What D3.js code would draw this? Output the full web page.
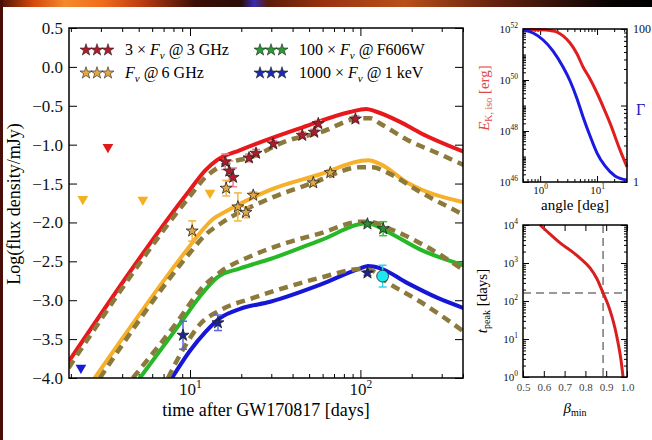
<!DOCTYPE html>
<html>
<head>
<meta charset="utf-8">
<script src="https://cdn.jsdelivr.net/npm/d3@7"></script>
<style>
  body { margin: 0; background: #fff; }
  svg { display: block; font-family: "Liberation Serif", "Times New Roman", serif; }
</style>
</head>
<body>
<div id="chart"></div>
<script>
// ---------- light curves: [days, log flux] ----------
const redSolid = [[1.94,-3.79],[10,-1.58],[12.3,-1.33],[14.4,-1.20],[19.7,-1.07],[44,-0.79],[87,-0.58],[108,-0.54],[122,-0.57],[172,-0.71],[225,-0.85],[403,-1.09]];
const redDashed = [[1.94,-3.87],[10,-1.66],[12.3,-1.42],[15,-1.28],[23.5,-1.15],[37.2,-0.95],[58.2,-0.84],[100,-0.66],[114,-0.66],[131,-0.73],[189,-0.94],[284,-1.11],[403,-1.26]];
const orangeSolid = [[2.76,-4.0],[9.6,-2.35],[11.4,-2.14],[13.6,-1.96],[16.5,-1.85],[29.6,-1.58],[58.2,-1.38],[100,-1.21],[111,-1.20],[131,-1.25],[189,-1.49],[403,-1.74]];
const orangeDashed = [[2.96,-4.0],[10,-2.39],[12.3,-2.16],[15,-2.02],[29.6,-1.69],[52.9,-1.49],[100,-1.29],[118,-1.29],[144,-1.36],[225,-1.61],[403,-1.90]];
const greenSolid = [[5.08,-4.0],[9.1,-3.25],[11.45,-2.95],[14.4,-2.71],[19.7,-2.59],[29.6,-2.47],[58.2,-2.23],[110,-2.01],[144,-2.12],[225,-2.35],[403,-2.55]];
const greenDashed = [[4.62,-4.0],[8.73,-3.23],[11.45,-2.87],[15,-2.64],[23.5,-2.42],[37.2,-2.26],[58.2,-2.14],[100,-1.99],[111,-1.99],[156,-2.10],[248,-2.32],[403,-2.61]];
const blueSolid = [[7.84,-4.0],[10,-3.65],[12.3,-3.41],[15,-3.23],[19.7,-3.11],[29.6,-3.02],[58.2,-2.80],[100,-2.59],[111,-2.56],[131,-2.59],[189,-2.78],[284,-2.97],[403,-3.10]];
const blueDashed = [[7.43,-4.0],[9.35,-3.59],[11.45,-3.31],[15,-3.13],[23.5,-2.97],[37.2,-2.83],[58.2,-2.71],[100,-2.60],[114,-2.61],[144,-2.77],[225,-3.02],[403,-3.40]];

// ---------- detections: [days, log flux, error] ----------
const redStars = [[16.1,-1.22,0.10],[17.0,-1.34,0.13],[17.9,-1.42,0.12],[22.2,-1.17,0.05],[24.4,-1.11,0.05],[30.8,-0.99,0.04],[45.6,-0.88,0.04],[53.6,-0.84,0.04],[56.6,-0.73,0.04],[93.5,-0.67,0.04]];
const orangeStars = [[10.3,-2.11,0.13],[16.3,-1.56,0.10],[19.1,-1.80,0.18],[21.3,-1.87,0.07],[23.5,-1.65,0.04],[52.9,-1.49,0.04],[66.6,-1.36,0.04]];
const greenStars = [[110,-2.02,0.03],[136,-2.08,0.09]];
const blueStars = [[9.1,-3.45,0.18],[14.6,-3.29,0.10],[110,-2.65,0.03]];
const cyanPoints = [[135,-2.69,0.14]];

// ---------- upper limits: [days, log flux] ----------
const redLimits = [[3.3,-1.03]];
const orangeLimits = [[2.35,-1.70],[5.29,-1.71],[13.1,-1.62]];
const blueLimits = [[2.29,-3.87]];

// ---------- legend ----------
const legendFactors = ["3 × ", "", "100 × ", "1000 × "];
const legendBands = ["3 GHz", "6 GHz", "F606W", "1 keV"];

// ---------- side panels ----------
const angleLogE = [[0.503,51.98],[1.0,51.97],[1.5,51.94],[1.99,51.88],[2.53,51.73],[3.36,51.45],[4.46,51.02],[5.68,50.51],[7.54,50.04],[10,49.49],[13.8,48.78],[16.9,48.31],[25.4,47.25],[33.6,46.59]];
const angleGamma = [[0.503,97],[0.754,88.6],[1.13,71.8],[1.69,51.5],[2.53,31.8],[3.36,20.9],[4.46,12.2],[5.68,7.08],[7.54,3.99],[10,2.39],[13.8,1.62],[20.7,1.2],[33.6,1.06]];
const betaLogT = [[0.582,4.0],[0.630,3.76],[0.678,3.53],[0.726,3.34],[0.774,3.13],[0.822,2.87],[0.856,2.58],[0.885,2.21],[0.909,1.90],[0.928,1.58],[0.942,1.29],[0.957,0.90],[0.971,0.45],[0.981,0.0]];
const betaMark = 0.885;
const tPeakMark = 162;
const betaTicks = [0.5, 0.6, 0.7, 0.8, 0.9, 1.0];

const W = 652, H = 440;
const svg = d3.select("#chart").append("svg").attr("width", W).attr("height", H);

// screenshot edges
const defs = svg.append("defs");
const band = defs.append("linearGradient").attr("id", "band");
[[0,"#4a1206"],[0.05,"#d2480e"],[0.1,"#f58a2a"],[0.16,"#f06a1c"],[0.22,"#b83a10"],[0.3,"#3a0e06"],[0.37,"#2a0c08"],[0.39,"#3a2ab0"],[0.41,"#5a1a0a"],[0.5,"#9a3410"],[0.62,"#b8501a"],[0.75,"#6a2410"],[0.86,"#301008"],[0.93,"#0a0404"],[1,"#000"]]
  .forEach(([o, c]) => band.append("stop").attr("offset", o).attr("stop-color", c));
svg.append("rect").attr("width", W).attr("height", 7).attr("fill", "url(#band)");
svg.append("rect").attr("width", 3).attr("height", H).attr("fill", "#4a0e08");

let tidy = function(g) {
    g.select(".domain").remove();
    g.attr("font-family", null).attr("font-size", null);
    g.selectAll(".tick line").attr("stroke", "#000");
    g.selectAll(".tick text").attr("fill", "#111");
};

let pow10 = function(text, exp, size) {
    text.text(null);
    text.append("tspan").text("10");
    text.append("tspan").attr("font-size", size * 0.68).attr("dy", -size * 0.42).text(exp);
};

// ================= main panel =================
const x = d3.scaleLog().domain([1.95, 400]).range([69, 463]);
const y = d3.scaleLinear().domain([-4, 0.5]).range([378, 28]);
const xMajor = [10, 100];
const xMinor = x.ticks().filter(d => !xMajor.includes(d));
const yTicks = d3.range(-4, 0.51, 0.5);

const main = svg.append("g");
main.append("defs").append("clipPath").attr("id", "clipMain")
    .append("rect").attr("x", 69).attr("y", 28).attr("width", 394).attr("height", 350);

main.append("g").attr("transform", "translate(0,378)")
    .call(d3.axisBottom(x).tickValues(xMajor).tickSizeInner(-8).tickSizeOuter(0).tickPadding(5).tickFormat(""))
    .call(tidy)
    .selectAll(".tick text").attr("font-size", 17).each(function(d) { d3.select(this).call(pow10, Math.round(Math.log10(d)), 17); });
main.append("g").attr("transform", "translate(0,378)")
    .call(d3.axisBottom(x).tickValues(xMinor).tickSizeInner(-4).tickSizeOuter(0).tickFormat(""))
    .call(tidy);
main.append("g").attr("transform", "translate(0,28)")
    .call(d3.axisTop(x).tickValues(xMajor).tickSizeInner(-8).tickSizeOuter(0).tickFormat(""))
    .call(tidy);
main.append("g").attr("transform", "translate(0,28)")
    .call(d3.axisTop(x).tickValues(xMinor).tickSizeInner(-4).tickSizeOuter(0).tickFormat(""))
    .call(tidy);
main.append("g").attr("transform", "translate(69,0)")
    .call(d3.axisLeft(y).tickValues(yTicks).tickSizeInner(-8).tickSizeOuter(0).tickPadding(6).tickFormat(d3.format(".1f")))
    .call(tidy)
    .selectAll(".tick text").attr("font-size", 17);
main.append("g").attr("transform", "translate(463,0)")
    .call(d3.axisRight(y).tickValues(yTicks).tickSizeInner(-8).tickSizeOuter(0).tickFormat(""))
    .call(tidy);

main.append("text").attr("x", 266).attr("y", 416).attr("text-anchor", "middle")
    .attr("font-size", 18).text("time after GW170817 [days]");
main.append("text").attr("transform", "translate(20,204) rotate(-90)").attr("text-anchor", "middle")
    .attr("font-size", 18).text("Log(flux density/mJy)");

const line = d3.line().x(d => x(d[0])).y(d => y(d[1])).curve(d3.curveMonotoneX);
const plot = main.append("g").attr("clip-path", "url(#clipMain)");

const series = [
    {solid: redSolid, dashed: redDashed, color: "#e8191c"},
    {solid: orangeSolid, dashed: orangeDashed, color: "#f7b02a"},
    {solid: greenSolid, dashed: greenDashed, color: "#27b827"},
    {solid: blueSolid, dashed: blueDashed, color: "#1616d6"}
];
series.forEach(s => {
    plot.append("path").attr("d", line(s.solid)).attr("fill", "none")
        .attr("stroke", s.color).attr("stroke-width", 4);
});
series.forEach(s => {
    plot.append("path").attr("d", line(s.dashed)).attr("fill", "none")
        .attr("stroke", "#8c7a3c").attr("stroke-width", 4.5).attr("stroke-dasharray", "9,6");
});

// upper limits
const tri = d3.symbol(d3.symbolTriangle, 50)();
[[redLimits, "#e01a1a"], [orangeLimits, "#f5b020"], [blueLimits, "#1a1ad6"]].forEach(([data, color]) => {
    plot.selectAll(null).data(data).join("path")
        .attr("d", tri)
        .attr("transform", d => `translate(${x(d[0])},${y(d[1])}) rotate(180)`)
        .attr("fill", color);
});

// detections with error bars
let drawPoints = function(data, errColor, fill, shape) {
    const g = plot.append("g");
    const bars = g.selectAll("g").data(data).join("g").attr("stroke", errColor).attr("stroke-width", 1.5);
    bars.append("line").attr("x1", d => x(d[0])).attr("x2", d => x(d[0]))
        .attr("y1", d => y(d[1] - d[2])).attr("y2", d => y(d[1] + d[2]));
    bars.append("line").attr("x1", d => x(d[0]) - 4).attr("x2", d => x(d[0]) + 4)
        .attr("y1", d => y(d[1] - d[2])).attr("y2", d => y(d[1] - d[2]));
    bars.append("line").attr("x1", d => x(d[0]) - 4).attr("x2", d => x(d[0]) + 4)
        .attr("y1", d => y(d[1] + d[2])).attr("y2", d => y(d[1] + d[2]));
    g.selectAll("path").data(data).join("path")
        .attr("d", shape)
        .attr("transform", d => `translate(${x(d[0])},${y(d[1])})`)
        .attr("fill", fill).attr("stroke", "#222").attr("stroke-width", 0.8);
};
const star = d3.symbol(d3.symbolStar, 45)();
drawPoints(redStars, "#f07f86", "#b01b2b", star);
drawPoints(orangeStars, "#f2b448", "#e2a845", star);
drawPoints(greenStars, "#3cc03c", "#2a8f32", star);
drawPoints(blueStars, "#5a64e0", "#1c2490", star);
drawPoints(cyanPoints, "#33d6e6", "#1ee8f0", d3.symbol(d3.symbolCircle, 110)());

// legend
const legendColors = ["#b01b2b", "#e2a845", "#2a9a36", "#1a2ab4"];
const legend = main.append("g");
legendBands.forEach((b, i) => {
    const lx = i < 2 ? 86 : 260;
    const ly = i % 2 === 0 ? 50 : 73;
    [0, 11, 22].forEach(dx => {
        legend.append("path").attr("d", star)
            .attr("transform", `translate(${lx + dx},${ly})`)
            .attr("fill", legendColors[i]).attr("stroke", "#222").attr("stroke-width", 0.6);
    });
    const t = legend.append("text").attr("x", lx + 39).attr("y", ly + 5).attr("font-size", 16);
    t.append("tspan").text(legendFactors[i]);
    t.append("tspan").attr("font-style", "italic").text("F");
    t.append("tspan").attr("font-style", "italic").attr("font-size", 11).attr("dy", 4).text("ν");
    t.append("tspan").attr("dy", -4).text(" @\u2009" + b);
});

main.append("rect").attr("x", 69).attr("y", 28).attr("width", 394).attr("height", 350)
    .attr("fill", "none").attr("stroke", "#000").attr("stroke-width", 1.5);

// ================= upper right: energy / Lorentz factor vs angle =================
const xa = d3.scaleLog().domain([0.5, 33.6]).range([523, 627]);
const ye = d3.scaleLog().domain([1e46, 1e52]).range([182, 29]);
const yg = d3.scaleLog().domain([1, 100]).range([182, 29]);
const up = svg.append("g");
const aMajor = [1, 10];
const aMinor = xa.ticks().filter(d => !aMajor.includes(d));
const eMajor = [1e46, 1e48, 1e50, 1e52];
const eMinor = ye.ticks().filter(d => !eMajor.includes(d));
const gMajor = [1, 10, 100];
const gMinor = yg.ticks().filter(d => !gMajor.includes(d));

up.append("g").attr("transform", "translate(0,182)")
    .call(d3.axisBottom(xa).tickValues(aMajor).tickSizeInner(-6).tickSizeOuter(0).tickPadding(4).tickFormat(""))
    .call(tidy)
    .selectAll(".tick text").attr("font-size", 11).each(function(d) { d3.select(this).call(pow10, Math.round(Math.log10(d)), 11); });
up.append("g").attr("transform", "translate(0,182)")
    .call(d3.axisBottom(xa).tickValues(aMinor).tickSizeInner(-3).tickSizeOuter(0).tickFormat("")).call(tidy);
up.append("g").attr("transform", "translate(0,29)")
    .call(d3.axisTop(xa).tickValues(aMajor).tickSizeInner(-6).tickSizeOuter(0).tickFormat("")).call(tidy);
up.append("g").attr("transform", "translate(0,29)")
    .call(d3.axisTop(xa).tickValues(aMinor).tickSizeInner(-3).tickSizeOuter(0).tickFormat("")).call(tidy);
up.append("g").attr("transform", "translate(523,0)")
    .call(d3.axisLeft(ye).tickValues(eMajor).tickSizeInner(-6).tickSizeOuter(0).tickPadding(5).tickFormat(""))
    .call(tidy)
    .selectAll(".tick text").attr("font-size", 11).each(function(d) { d3.select(this).call(pow10, Math.round(Math.log10(d)), 11); });
up.append("g").attr("transform", "translate(523,0)")
    .call(d3.axisLeft(ye).tickValues(eMinor).tickSizeInner(-3).tickSizeOuter(0).tickFormat("")).call(tidy);
up.append("g").attr("transform", "translate(627,0)")
    .call(d3.axisRight(yg).tickValues(gMajor).tickSizeInner(-6).tickSizeOuter(0).tickPadding(6).tickFormat(d => d === 10 ? "" : d))
    .call(tidy)
    .selectAll(".tick text").attr("font-size", 12);
up.append("g").attr("transform", "translate(627,0)")
    .call(d3.axisRight(yg).tickValues(gMinor).tickSizeInner(-3).tickSizeOuter(0).tickFormat("")).call(tidy);

const lineE = d3.line().x(d => xa(d[0])).y(d => ye(Math.pow(10, d[1]))).curve(d3.curveMonotoneX);
const lineG = d3.line().x(d => xa(d[0])).y(d => yg(d[1])).curve(d3.curveMonotoneX);
up.append("path").attr("d", lineE(angleLogE)).attr("fill", "none").attr("stroke", "#e01e1e").attr("stroke-width", 3);
up.append("path").attr("d", lineG(angleGamma)).attr("fill", "none").attr("stroke", "#1a1ae0").attr("stroke-width", 3);
up.append("rect").attr("x", 523).attr("y", 29).attr("width", 104).attr("height", 153)
    .attr("fill", "none").attr("stroke", "#000").attr("stroke-width", 1.5);

up.append("text").attr("x", 575).attr("y", 210).attr("text-anchor", "middle").attr("font-size", 15).text("angle [deg]");
const eLab = up.append("text").attr("transform", "translate(489,98) rotate(-90)").attr("text-anchor", "middle")
    .attr("font-size", 15).attr("fill", "#e04848");
eLab.append("tspan").attr("font-style", "italic").text("E");
eLab.append("tspan").attr("font-size", 10).attr("dy", 3).text("K, iso");
eLab.append("tspan").attr("dy", -3).text(" [erg]");
up.append("text").attr("x", 636).attr("y", 115).attr("font-size", 16).attr("fill", "#2020c0").text("Γ");

// ================= lower right: peak time vs beta =================
const xb = d3.scaleLinear().domain([0.5, 1.0]).range([523, 627]);
const yt = d3.scaleLog().domain([1, 1e4]).range([377, 225]);
const lo = svg.append("g");
const tMajor = [1, 10, 100, 1000, 10000];
const tMinor = yt.ticks().filter(d => !tMajor.includes(d));

lo.append("g").attr("transform", "translate(0,377)")
    .call(d3.axisBottom(xb).tickValues(betaTicks).tickSizeInner(-6).tickSizeOuter(0).tickPadding(6).tickFormat(d3.format(".1f")))
    .call(tidy)
    .selectAll(".tick text").attr("font-size", 11).attr("fill", "#444");
lo.append("g").attr("transform", "translate(0,225)")
    .call(d3.axisTop(xb).tickValues(betaTicks).tickSizeInner(-6).tickSizeOuter(0).tickFormat("")).call(tidy);
lo.append("g").attr("transform", "translate(523,0)")
    .call(d3.axisLeft(yt).tickValues(tMajor).tickSizeInner(-6).tickSizeOuter(0).tickPadding(5).tickFormat(""))
    .call(tidy)
    .selectAll(".tick text").attr("font-size", 11).each(function(d) { d3.select(this).call(pow10, Math.round(Math.log10(d)), 11); });
lo.append("g").attr("transform", "translate(523,0)")
    .call(d3.axisLeft(yt).tickValues(tMinor).tickSizeInner(-3).tickSizeOuter(0).tickFormat("")).call(tidy);
lo.append("g").attr("transform", "translate(627,0)")
    .call(d3.axisRight(yt).tickValues(tMajor).tickSizeInner(-6).tickSizeOuter(0).tickFormat("")).call(tidy);
lo.append("g").attr("transform", "translate(627,0)")
    .call(d3.axisRight(yt).tickValues(tMinor).tickSizeInner(-3).tickSizeOuter(0).tickFormat("")).call(tidy);

lo.append("line").attr("x1", xb(betaMark)).attr("x2", xb(betaMark)).attr("y1", 225).attr("y2", 377)
    .attr("stroke", "#777").attr("stroke-width", 1.5).attr("stroke-dasharray", "8,5");
lo.append("line").attr("x1", 523).attr("x2", 627).attr("y1", yt(tPeakMark)).attr("y2", yt(tPeakMark))
    .attr("stroke", "#777").attr("stroke-width", 1.5).attr("stroke-dasharray", "8,5");
const lineT = d3.line().x(d => xb(d[0])).y(d => yt(Math.pow(10, d[1]))).curve(d3.curveMonotoneX);
lo.append("path").attr("d", lineT(betaLogT)).attr("fill", "none").attr("stroke", "#d81e1e").attr("stroke-width", 3);
lo.append("rect").attr("x", 523).attr("y", 225).attr("width", 104).attr("height", 152)
    .attr("fill", "none").attr("stroke", "#000").attr("stroke-width", 1.5);

const bLab = lo.append("text").attr("x", 575).attr("y", 413).attr("text-anchor", "middle").attr("font-size", 15);
bLab.append("tspan").attr("font-style", "italic").text("β");
bLab.append("tspan").attr("font-size", 10).attr("dy", 3).text("min");
const tLab = lo.append("text").attr("transform", "translate(487,301) rotate(-90)").attr("text-anchor", "middle").attr("font-size", 15);
tLab.append("tspan").attr("font-style", "italic").text("t");
tLab.append("tspan").attr("font-size", 10).attr("dy", 3).text("peak");
tLab.append("tspan").attr("dy", -3).text(" [days]");
</script>
</body>
</html>
